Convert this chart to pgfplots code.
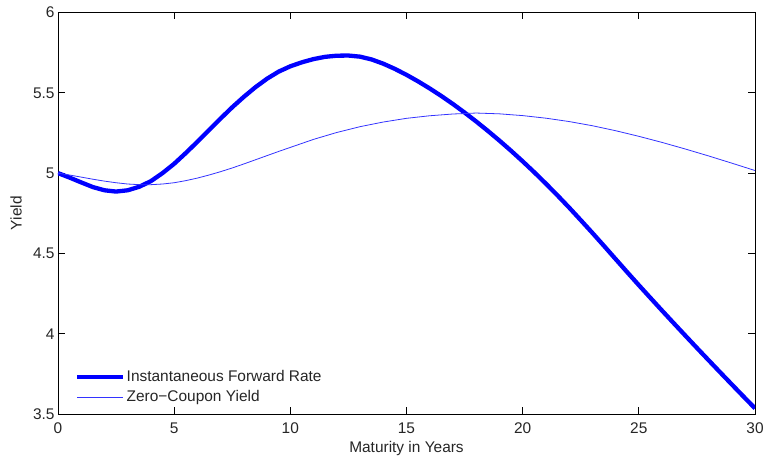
\documentclass[border=0pt]{standalone}
\usepackage{fontspec}
\setmainfont{Liberation Sans}
\usepackage{pgfplots}
\pgfplotsset{compat=1.18}
\begin{document}
\begin{tikzpicture}
\begin{axis}[
  at={(0,0)}, anchor=south west,
  scale only axis,
  width=697bp, height=401.5bp,
  xmin=0, xmax=30, ymin=3.5, ymax=6,
  xtick={0,5,...,30},
  ytick={3.5,4,4.5,5,5.5,6},
  tick align=inside,
  major tick length=7bp,
  axis line style={line width=0.8bp, black},
  every tick/.style={black, line width=0.8bp},
  /pgf/number format/assume math mode=true,
  ticklabel style={font=\fontsize{15.5}{18}\selectfont, color=black!85},
  xticklabel style={yshift=-5bp},
  xlabel={Maturity in Years},
  ylabel={Yield},
  label style={font=\fontsize{15.5}{18}\selectfont, color=black!85},
  xlabel style={at={(axis description cs:0.5,0)}, anchor=north, inner sep=0pt, yshift=-27.5bp},
  ylabel style={at={(axis description cs:-0.0517,0.5)}, anchor=south, rotate=0, inner sep=0pt},
  legend cell align=left,
  legend style={draw=none, fill=none, at={(0.024,0.022)}, anchor=south west,
    inner sep=0pt, row sep=4.5bp, font=\fontsize{15.5}{18}\selectfont,
    nodes={inner sep=1.5bp, text=black!85}},
  legend image code/.code={\draw[#1] (0bp,0bp) -- (46bp,0bp);},
]
\addplot[blue, line width=4.3bp] coordinates {
(0,5.000) (0.5,4.972) (1,4.942) (1.5,4.913) (2,4.893) (2.5,4.885) (3,4.893)
(3.5,4.915) (4,4.950) (4.5,5.000) (5,5.058) (5.5,5.125) (6,5.195) (6.5,5.268)
(7,5.340) (7.5,5.410) (8,5.475) (8.5,5.535) (9,5.588) (9.5,5.632) (10,5.665)
(10.5,5.690) (11,5.710) (11.5,5.724) (12,5.731) (12.5,5.732) (13,5.725)
(13.5,5.7075) (14,5.6813) (14.5,5.6488) (15,5.6118) (15.5,5.5710) (16,5.5270)
(16.5,5.4800) (17,5.4300) (17.5,5.3770) (18,5.3213) (18.5,5.2630) (19,5.2023)
(19.5,5.1390) (20,5.0733) (20.5,5.0050) (21,4.9343) (21.5,4.8610) (22,4.7853)
(22.5,4.7070) (23,4.6278) (23.5,4.5468) (24,4.4648) (24.5,4.3830) (25,4.3023)
(25.5,4.2228) (26,4.1438) (26.5,4.0658) (27,3.9883) (27.5,3.9114) (28,3.8353)
(28.5,3.7596) (29,3.6843) (29.5,3.6096) (30,3.5353)
};
\addlegendentry{Instantaneous Forward Rate}
\addplot[blue!80!white, line width=0.8bp] coordinates {
(0,5.000) (0.5,4.988) (1,4.975) (1.5,4.962) (2,4.950) (2.5,4.940) (3,4.932)
(3.5,4.928) (4,4.928) (4.5,4.932) (5,4.940) (5.5,4.953) (6,4.969) (6.5,4.988)
(7,5.009) (7.5,5.032) (8,5.057) (8.5,5.083) (9,5.109) (9.5,5.135) (10,5.160)
(11,5.210) (12,5.253) (13,5.289) (14,5.318) (15,5.341) (16,5.357) (17,5.368)
(18,5.374) (19,5.369) (20,5.358) (21,5.342) (22,5.321) (23,5.295) (24,5.264)
(25,5.229) (26,5.191) (27,5.150) (28,5.107) (29,5.062) (30,5.016)
};
\addlegendentry{Zero−Coupon Yield}
\end{axis}
\pgfresetboundingbox
\path[use as bounding box] (-58bp,-42bp) rectangle (708bp,414bp);
\end{tikzpicture}
\end{document}
